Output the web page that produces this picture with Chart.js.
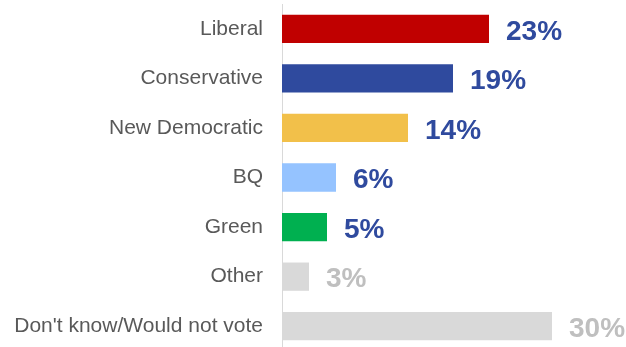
<!DOCTYPE html>
<html>
<head>
<meta charset="utf-8">
<script src="https://cdn.jsdelivr.net/npm/chart.js@4"></script>
<style>
  html, body { margin: 0; padding: 0; background: #fff; overflow: hidden; }
  canvas { display: block; }
</style>
</head>
<body>
<!-- the source chart is cropped at the bottom, so the canvas runs a few pixels past the window -->
<canvas id="chart" width="626" height="351"></canvas>
<script>
const parties = ["Liberal", "Conservative", "New Democratic", "BQ", "Green", "Other", "Don't know/Would not vote"];
const shares = [23, 19, 14, 6, 5, 3, 30];
const barColors = ["#C00000", "#2F4A9E", "#F2C04A", "#95C3FF", "#00B050", "#D9D9D9", "#D9D9D9"];
const labelColors = ["#2F4A9E", "#2F4A9E", "#2F4A9E", "#2F4A9E", "#2F4A9E", "#BFBFBF", "#BFBFBF"];

// draws the "23%" style labels at the end of each bar
const valueLabels = {
  id: "valueLabels",
  afterDatasetsDraw(chart) {
    const ctx = chart.ctx;
    const meta = chart.getDatasetMeta(0);
    ctx.save();
    ctx.font = "bold 28px 'Liberation Sans', Arial, sans-serif";
    ctx.textBaseline = "middle";
    ctx.textAlign = "left";
    meta.data.forEach((bar, i) => {
      ctx.fillStyle = labelColors[i];
      ctx.fillText(shares[i] + "%", bar.x + 17, bar.y + 3);
    });
    ctx.restore();
  }
};

new Chart(document.getElementById("chart"), {
  type: "bar",
  data: {
    labels: parties,
    datasets: [{
      data: shares,
      backgroundColor: barColors,
      barPercentage: 0.57,
      categoryPercentage: 1
    }]
  },
  options: {
    indexAxis: "y",
    responsive: false,
    animation: false,
    layout: { padding: { top: 4, bottom: 0, right: 2, left: 0 } },
    plugins: { legend: { display: false }, tooltip: { enabled: false } },
    scales: {
      x: {
        display: false,
        min: 0,
        max: 38
      },
      y: {
        afterFit(axis) {
          axis.width = 282;
          axis.paddingTop = 0;
          axis.paddingBottom = 0;
        },
        grid: { display: false, drawTicks: false },
        border: { display: true, color: "#D9D9D9", width: 1 },
        ticks: {
          padding: 19,
          color: "#595959",
          font: { family: "'Liberation Sans', Arial, sans-serif", size: 21 }
        }
      }
    }
  },
  plugins: [valueLabels]
});
</script>
</body>
</html>
